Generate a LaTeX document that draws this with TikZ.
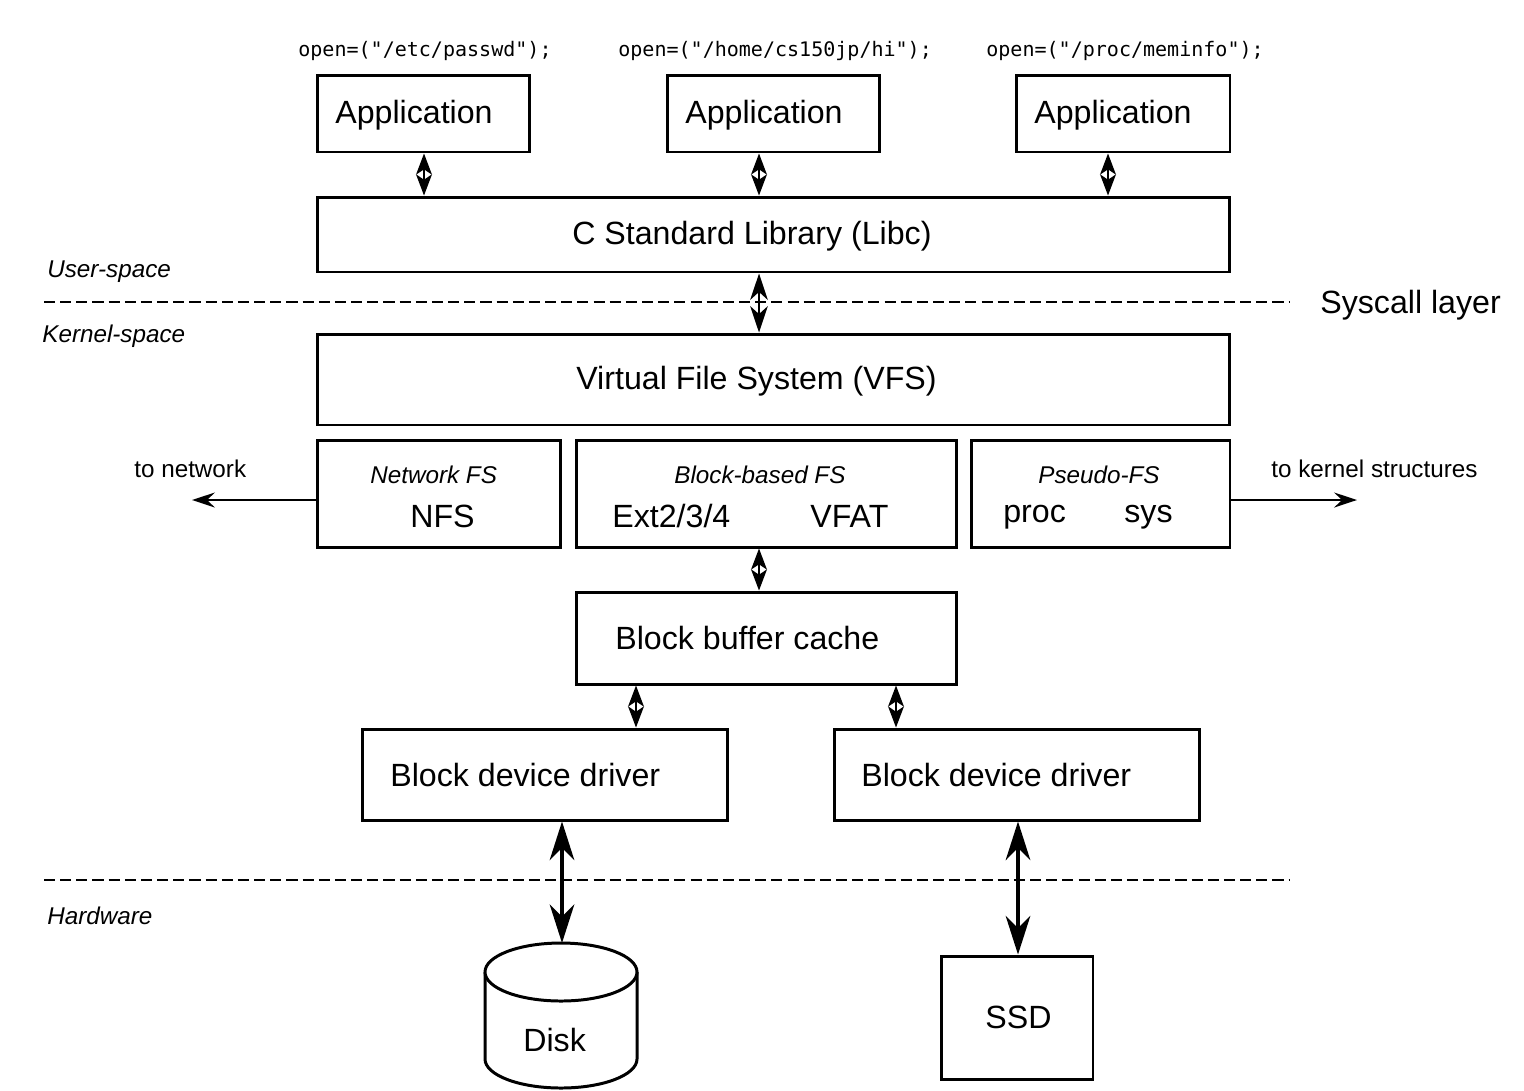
\documentclass[tikz,border=0pt]{standalone}
\usepackage{fontspec}
\setmainfont{Liberation Sans}
\newfontfamily\codefont{DejaVu Sans Mono}
\usetikzlibrary{arrows.meta}
% one drawing unit in points
\def\upx{0.569055pt}

\begin{document}
\begin{tikzpicture}[x=0.02cm, y=-0.02cm,
  box/.style={draw, line width=1.7pt, inner sep=0pt, fill=white},
  bigtxt/.style={inner sep=0pt, anchor=base west, font=\fontsize{18.3}{21}\selectfont},
  smalltxt/.style={inner sep=0pt, anchor=base west, font=\fontsize{13.8}{16}\selectfont},
  ittxt/.style={inner sep=0pt, anchor=base west, font=\fontsize{13.8}{16}\selectfont\itshape},
  codetxt/.style={inner sep=0pt, anchor=base west, font=\codefont\fontsize{11.4}{13}\selectfont},
  tipS/.tip={Stealth[length=12pt,width=9pt,inset=3pt]},
  tipM/.tip={Stealth[length=15pt,width=10pt,inset=4.5pt]},
  tipL/.tip={Stealth[length=22pt,width=14pt,inset=7pt]},
  thinlink/.style={line width=1.2pt, tipS-tipS},
  midlink/.style={line width=1.3pt, tipM-tipM},
  heavylink/.style={line width=2.3pt, tipL-tipL},
  outlink/.style={line width=1.5pt, -{Stealth[length=13pt,width=8.5pt,inset=4.5pt]}},
  layerline/.style={line width=1.3pt, dash pattern=on 6.3pt off 2.9pt},
]
\path[use as bounding box, fill=white] (0,0) rectangle (1524,1090);

% x positions of the vertical links
\coordinate (xa) at (424,0);
\coordinate (xb) at (759,0);
\coordinate (xc) at (1108,0);
\coordinate (xd) at (636,0);
\coordinate (xe) at (896,0);
\coordinate (xf) at (562,0);
\coordinate (xg) at (1018,0);
\coordinate (ylat) at (0,500);

% layer separators
\draw[layerline] (44,302) -- (1290,302);
\draw[layerline] (44,880) -- (1290,880);
\node[bigtxt] (sysc) at (1320,313) {Syscall layer};
\node[ittxt] (usp) at (47,277) {User-space};
\node[ittxt] (ksp) at (42,342) {Kernel-space};
\node[ittxt] (hw) at (47,924) {Hardware};

% applications
\node[codetxt] (c1) at (298,56) {open=("/etc/passwd");};
\node[codetxt] (c2) at (618,56) {open=("/home/cs150jp/hi");};
\node[codetxt] (c3) at (986,56) {open=("/proc/meminfo");};
\node[box, minimum width=213*\upx, minimum height=77*\upx] (app1) at (423.5,113.5) {};
\node[box, minimum width=213*\upx, minimum height=77*\upx] (app2) at (773.5,113.5) {};
\node[box, minimum width=214*\upx, minimum height=77*\upx] (app3) at (1123,113.5) {};
\node[bigtxt] (a1t) at (335,123) {Application};
\node[bigtxt] (a2t) at (685,123) {Application};
\node[bigtxt] (a3t) at (1034,123) {Application};

% libc and VFS
\node[box, minimum width=913*\upx, minimum height=75*\upx] (libc) at (773.5,234.5) {};
\node[bigtxt] (libct) at (572,244) {C Standard Library (Libc)};
\node[box, minimum width=913*\upx, minimum height=91*\upx] (vfs) at (773.5,379.5) {};
\node[bigtxt] (vfst) at (576,389) {Virtual File System (VFS)};

% file systems
\node[box, minimum width=244*\upx, minimum height=107*\upx] (nfsbox) at (439,493.5) {};
\node[box, minimum width=381*\upx, minimum height=107*\upx] (blkbox) at (766.5,493.5) {};
\node[box, minimum width=259*\upx, minimum height=107*\upx] (psbox) at (1100.5,493.5) {};
\node[ittxt] (nfsh) at (370,483) {Network FS};
\node[bigtxt] (nfst) at (410,527) {NFS};
\node[ittxt] (blkh) at (674,483) {Block-based FS};
\node[bigtxt] (extt) at (612,527) {Ext2/3/4};
\node[bigtxt] (vfatt) at (810,527) {VFAT};
\node[ittxt] (psh) at (1038,483) {Pseudo-FS};
\node[bigtxt] (proct) at (1003,522) {proc};
\node[bigtxt] (syst) at (1124,522) {sys};

\coordinate (netend) at (192,500);
\coordinate (kend) at (1357,500);
\node[smalltxt] (nett) at (134,477) {to network};
\node[smalltxt] (kt) at (1271,477) {to kernel structures};

% block layer
\node[box, minimum width=381*\upx, minimum height=92*\upx] (cache) at (766.5,638) {};
\node[bigtxt] (cachet) at (615,649) {Block buffer cache};
\node[box, minimum width=366*\upx, minimum height=91*\upx] (bdd1) at (545,774.5) {};
\node[box, minimum width=366*\upx, minimum height=91*\upx] (bdd2) at (1017,774.5) {};
\node[bigtxt] (b1t) at (390,786) {Block device driver};
\node[bigtxt] (b2t) at (861,786) {Block device driver};

% hardware
\draw[line width=1.7pt, fill=white] (485,972) -- (485,1059)
  arc[start angle=180, end angle=0, x radius=76, y radius=29] -- (637,972);
\draw[line width=1.7pt, fill=white] (561,972) ellipse [x radius=76, y radius=29];
\coordinate (disktop) at (562,943);
\node[bigtxt] (diskt) at (523,1051) {Disk};
\node[box, minimum width=152*\upx, minimum height=123*\upx] (ssd) at (1017,1017.5) {};
\node[bigtxt] (ssdt) at (985,1028) {SSD};

% links
\draw[thinlink] (app1.south -| xa) -- (libc.north -| xa);
\draw[thinlink] (app2.south -| xb) -- (libc.north -| xb);
\draw[thinlink] (app3.south -| xc) -- (libc.north -| xc);
\draw[midlink] (libc.south -| xb) -- (vfs.north -| xb);
\draw[thinlink] (blkbox.south -| xb) -- (cache.north -| xb);
\draw[thinlink] (cache.south -| xd) -- (bdd1.north -| xd);
\draw[thinlink] (cache.south -| xe) -- (bdd2.north -| xe);
\draw[heavylink] (bdd1.south -| xf) -- (disktop);
\draw[heavylink] (bdd2.south -| xg) -- (ssd.north -| xg);
\draw[outlink] (nfsbox.west |- ylat) -- (netend);
\draw[outlink] (psbox.east |- ylat) -- (kend);
\end{tikzpicture}
\end{document}
